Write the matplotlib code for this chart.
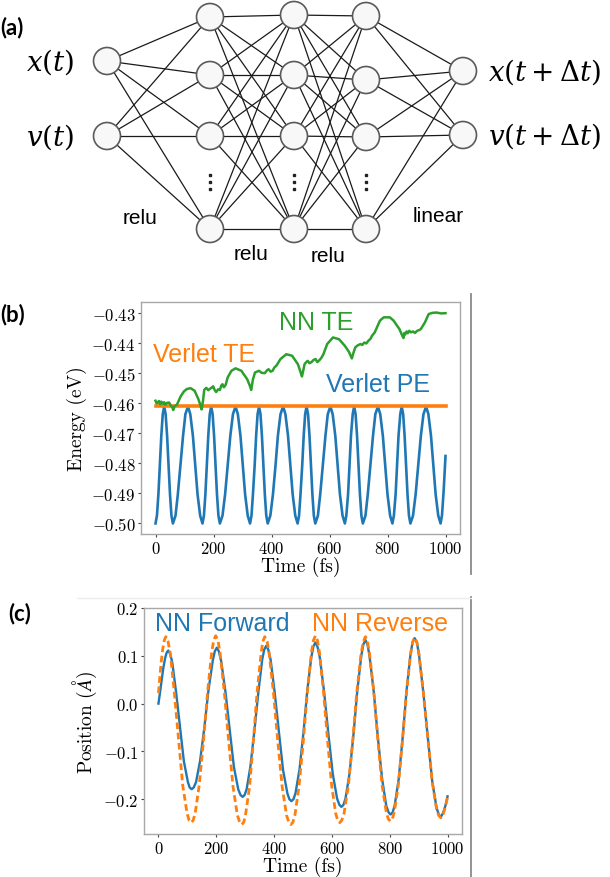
import matplotlib
matplotlib.use("Agg")
import matplotlib.pyplot as plt
from matplotlib.patches import Circle
from matplotlib.lines import Line2D
from matplotlib.ticker import MultipleLocator

plt.rcParams["font.family"] = "serif"
plt.rcParams["font.serif"] = ["cmr10"]
plt.rcParams["mathtext.fontset"] = "cm"
plt.rcParams["axes.formatter.use_mathtext"] = True

# ---- data -------------------------------------------------------------
input_labels = [r"$x(t)$", r"$v(t)$"]
output_labels = [r"$x(t+\Delta t)$", r"$v(t+\Delta t)$"]
activations = ["relu", "relu", "relu", "linear"]

# (b) Verlet potential energy
pe_time = [0, 5, 10, 15, 20, 25, 30, 35, 40, 45, 50, 55, 60,
           69, 77, 86, 95, 103, 112, 120, 129, 137, 145, 154, 162,
           167, 172, 177, 182, 187, 192, 197, 202, 207, 212, 217, 222,
           231, 240, 249, 258, 267, 276, 284, 293, 301, 309, 318, 326,
           331, 336, 342, 347, 352, 357, 362, 367, 372, 377, 382, 387,
           396, 405, 414, 422, 431, 440, 448, 457, 465, 473, 482, 490,
           495, 500, 506, 511, 516, 521, 526, 531, 536, 541, 546, 551,
           560, 568, 577, 586, 594, 603, 611, 620, 628, 636, 645, 653,
           658, 664, 669, 674, 680, 685, 690, 695, 700, 705, 710, 715,
           724, 732, 741, 750, 758, 767, 775, 784, 792, 800, 809, 817,
           822, 828, 833, 838, 844, 849, 854, 859, 864, 869, 874, 879,
           888, 897, 906, 915, 924, 933, 941, 950, 958, 966, 975, 983,
           988, 994, 1000]
pe_energy = [-0.500, -0.4974, -0.4903, -0.4805, -0.4708, -0.4636, -0.461, -0.4636, -0.4708, -0.4805, -0.4903, -0.4974, -0.500,
             -0.4974, -0.4903, -0.4805, -0.4708, -0.4636, -0.461, -0.4636, -0.4708, -0.4805, -0.4903, -0.4974, -0.500,
             -0.4974, -0.4903, -0.4805, -0.4708, -0.4636, -0.461, -0.4636, -0.4708, -0.4805, -0.4903, -0.4974, -0.500,
             -0.4974, -0.4903, -0.4805, -0.4708, -0.4636, -0.461, -0.4636, -0.4708, -0.4805, -0.4903, -0.4974, -0.500,
             -0.4974, -0.4903, -0.4805, -0.4708, -0.4636, -0.461, -0.4636, -0.4708, -0.4805, -0.4903, -0.4974, -0.500,
             -0.4974, -0.4903, -0.4805, -0.4708, -0.4636, -0.461, -0.4636, -0.4708, -0.4805, -0.4903, -0.4974, -0.500,
             -0.4974, -0.4903, -0.4805, -0.4708, -0.4636, -0.461, -0.4636, -0.4708, -0.4805, -0.4903, -0.4974, -0.500,
             -0.4974, -0.4903, -0.4805, -0.4708, -0.4636, -0.461, -0.4636, -0.4708, -0.4805, -0.4903, -0.4974, -0.500,
             -0.4974, -0.4903, -0.4805, -0.4708, -0.4636, -0.461, -0.4636, -0.4708, -0.4805, -0.4903, -0.4974, -0.500,
             -0.4974, -0.4903, -0.4805, -0.4708, -0.4636, -0.461, -0.4636, -0.4708, -0.4805, -0.4903, -0.4974, -0.500,
             -0.4974, -0.4903, -0.4805, -0.4708, -0.4636, -0.461, -0.4636, -0.4708, -0.4805, -0.4903, -0.4974, -0.500,
             -0.4974, -0.4903, -0.4805, -0.4708, -0.4636, -0.461, -0.4636, -0.4708, -0.4805, -0.4903, -0.4974, -0.500,
             -0.4972, -0.4885, -0.4775]

# (b) Verlet total energy
te_verlet_time = [0, 1000]
te_verlet_energy = [-0.461, -0.461]

# (b) NN total energy
te_nn_time = [0, 4, 7, 12, 16, 20, 26, 30, 34, 40, 47, 53, 58, 61, 66, 74, 87, 98,
              108, 121, 135, 148, 155, 159, 164, 168, 175, 182, 188, 194, 199, 204,
              209, 216, 222, 227, 231, 236, 242, 249, 262, 276, 296, 316, 325, 330,
              336, 343, 357, 366, 377, 384, 390, 397, 404, 410, 417, 431, 451, 471,
              491, 500, 505, 510, 514, 520, 525, 531, 538, 545, 552, 558, 565, 572,
              579, 592, 612, 633, 653, 667, 677, 683, 689, 698, 707, 713, 720, 727,
              734, 741, 747, 756, 774, 787, 808, 821, 841, 850, 855, 858, 861, 866,
              870, 875, 881, 888, 895, 902, 908, 915, 929, 942, 955, 969, 985, 1000]
te_nn_energy = [-0.4591, -0.4600, -0.4597, -0.4592, -0.4603, -0.4594, -0.4601, -0.4596,
                -0.4604, -0.4598, -0.4597, -0.4607, -0.4613, -0.4622, -0.4609, -0.4604,
                -0.4576, -0.4560, -0.4552, -0.4549, -0.4558, -0.4586, -0.4606, -0.4620,
                -0.4590, -0.4555, -0.4548, -0.4556, -0.4551, -0.4547, -0.4543, -0.4555,
                -0.4562, -0.4553, -0.4555, -0.4540, -0.4536, -0.4546, -0.4538, -0.4513,
                -0.4491, -0.4483, -0.4491, -0.4519, -0.4540, -0.4555, -0.4520, -0.4497,
                -0.4491, -0.4498, -0.4499, -0.4490, -0.4486, -0.4494, -0.4491, -0.4480,
                -0.4474, -0.4452, -0.4436, -0.4441, -0.4469, -0.4495, -0.4510, -0.4488,
                -0.4469, -0.4462, -0.4458, -0.4466, -0.4462, -0.4455, -0.4452, -0.4462,
                -0.4456, -0.4448, -0.4436, -0.4402, -0.4380, -0.4386, -0.4408, -0.4428,
                -0.4450, -0.4430, -0.4413, -0.4406, -0.4402, -0.4405, -0.4397, -0.4400,
                -0.4391, -0.4385, -0.4374, -0.4363, -0.4324, -0.4313, -0.4313, -0.4324,
                -0.4352, -0.4372, -0.4382, -0.4365, -0.4370, -0.4360, -0.4366, -0.4358,
                -0.4363, -0.4360, -0.4365, -0.4358, -0.4356, -0.4352, -0.4330, -0.4302,
                -0.4298, -0.4297, -0.4300, -0.4299]

# (c) NN forward position
fwd_time = [0, 6, 11, 17, 23, 28, 31, 34,
            41, 48, 61, 75, 88, 102, 108, 115,
            122, 130, 144, 159, 173, 188, 195, 202,
            209, 217, 232, 247, 261, 276, 284, 291,
            298, 305, 318, 332, 346, 359, 366, 373,
            380, 388, 402, 417, 431, 446, 453, 460,
            467, 474, 488, 502, 515, 529, 536, 543,
            550, 558, 573, 588, 603, 618, 626, 633,
            640, 647, 661, 675, 688, 702, 709, 716,
            723, 730, 745, 759, 774, 788, 796, 803,
            810, 817, 831, 845, 858, 872, 879, 886,
            894, 901, 916, 932, 947, 962, 970, 977,
            985, 993, 1000]
fwd_pos = [0.0, 0.026, 0.049, 0.075, 0.095, 0.106, 0.109, 0.111,
           0.1038, 0.0849, 0.024, -0.0514, -0.121, -0.1645, -0.1755, -0.179,
           -0.1754, -0.1642, -0.1198, -0.0488, 0.0282, 0.0904, 0.1096, 0.117,
           0.1092, 0.0889, 0.0234, -0.0577, -0.1326, -0.1794, -0.1913, -0.195,
           -0.1912, -0.1792, -0.1318, -0.056, 0.0262, 0.0926, 0.1131, 0.121,
           0.1129, 0.0917, 0.0235, -0.061, -0.139, -0.1878, -0.2001, -0.204,
           -0.2000, -0.1874, -0.1376, -0.0579, 0.0284, 0.0981, 0.1197, 0.128,
           0.1194, 0.097, 0.0248, -0.0646, -0.1472, -0.1988, -0.2119, -0.216,
           -0.2118, -0.1985, -0.1462, -0.0624, 0.0283, 0.1016, 0.1243, 0.133,
           0.1239, 0.1001, 0.0235, -0.0714, -0.159, -0.2138, -0.2276, -0.232,
           -0.2276, -0.2135, -0.1582, -0.0696, 0.0263, 0.1038, 0.1278, 0.137,
           0.1276, 0.1033, 0.0248, -0.0724, -0.1622, -0.2183, -0.2325, -0.237,
           -0.228, -0.213, -0.194]

# (c) NN reverse position
rev_time = [0, 5, 10, 15, 20, 23, 26,
            33, 41, 55, 70, 84, 99, 106, 113,
            120, 127, 141, 156, 170, 184, 191, 198,
            206, 213, 228, 243, 258, 273, 281, 288,
            295, 301, 315, 328, 341, 355, 361, 368,
            376, 383, 398, 413, 428, 443, 451, 458,
            465, 472, 486, 501, 515, 529, 536, 543,
            550, 557, 571, 585, 599, 613, 620, 627,
            634, 642, 657, 672, 686, 701, 709, 716,
            723, 730, 745, 759, 773, 788, 795, 802,
            809, 816, 830, 844, 858, 872, 879, 886,
            894, 901, 916, 932, 947, 962, 970, 977,
            985, 993, 1000]
rev_pos = [0.022, 0.058, 0.090, 0.115, 0.132, 0.137, 0.140,
           0.1303, 0.105, 0.0233, -0.0778, -0.1712, -0.2296, -0.2443, -0.249,
           -0.2443, -0.2294, -0.1708, -0.077, 0.0247, 0.1068, 0.1322, 0.142,
           0.1321, 0.1064, 0.0235, -0.0792, -0.174, -0.2333, -0.2483, -0.253,
           -0.2483, -0.2333, -0.1744, -0.0801, 0.0221, 0.1046, 0.1302, 0.140,
           0.1302, 0.1046, 0.0221, -0.0801, -0.1744, -0.2334, -0.2483, -0.253,
           -0.2483, -0.2333, -0.174, -0.0792, 0.0235, 0.1065, 0.1321, 0.142,
           0.1322, 0.1068, 0.0247, -0.077, -0.1708, -0.2295, -0.2443, -0.249,
           -0.2443, -0.2295, -0.1712, -0.0778, 0.0233, 0.105, 0.1303, 0.140,
           0.1303, 0.1053, 0.0242, -0.0762, -0.1688, -0.2267, -0.2414, -0.246,
           -0.2414, -0.2268, -0.1692, -0.077, 0.0228, 0.1034, 0.1284, 0.138,
           0.1286, 0.1041, 0.0249, -0.0731, -0.1636, -0.2202, -0.2345, -0.239,
           -0.231, -0.215, -0.196]

# ---- layout -----------------------------------------------------------
W, H = 610, 878
fig = plt.figure(figsize=(W / 100, H / 100), dpi=100)

blue, orange, green = "#1f77b4", "#ff7f0e", "#2ca02c"
sans = "Liberation Sans"

# (a) network diagram, drawn in pixel units
net = fig.add_axes([0, 1 - 272 / H, 1, 272 / H])
net.set_xlim(0, W)
net.set_ylim(272, 0)
net.axis("off")

layer_x = [107, 210, 294, 366, 463]
layer_y = [[62, 137], [18, 76, 137, 230], [16, 76, 137, 230], [17, 81, 138, 230], [72, 136]]

for i in range(len(layer_x) - 1):
    for y0 in layer_y[i]:
        for y1 in layer_y[i + 1]:
            net.plot([layer_x[i], layer_x[i + 1]], [y0, y1], color="#1a1a1a", lw=0.9, zorder=1)

for x, ys in zip(layer_x, layer_y):
    for y in ys:
        net.add_patch(Circle((x, y), 13.5, facecolor="#f8f8f8", edgecolor="#5a5a5a", lw=1.2, zorder=3))

for x in layer_x[1:4]:
    net.plot([x, x, x], [176, 183, 190], "s", ms=1.8, color="#222222", zorder=3)

for label, y in zip(input_labels, layer_y[0]):
    net.text(50, y, label, ha="center", va="center", fontsize=20, math_fontfamily="dejavuserif")
for label, y in zip(output_labels, layer_y[-1]):
    net.text(488, y, label, ha="left", va="center", fontsize=20, math_fontfamily="dejavuserif")

act_pos = [(140, 218), (251, 255), (328, 257), (438, 216)]
for label, (x, y) in zip(activations, act_pos):
    net.text(x, y, label, ha="center", va="center", fontsize=15, family=sans)

fig.text(0, 1 - 28 / H, "(a)", ha="left", va="center", fontsize=16, fontweight="bold", family="Lato")
fig.text(0, 1 - 315 / H, "(b)", ha="left", va="center", fontsize=16, fontweight="bold", family="Lato")
fig.text(8 / W, 1 - 614 / H, "(c)", ha="left", va="center", fontsize=16, fontweight="bold", family="Lato")

# separators
fig.add_artist(Line2D([471 / W, 471 / W], [1 - 295 / H, 1 - 575 / H], color="#8a8a8a", lw=1.3))
fig.add_artist(Line2D([471 / W, 471 / W], [1 - 598 / H, 0], color="#8a8a8a", lw=1.3))
fig.add_artist(Line2D([77 / W, 471 / W], [1 - 599 / H, 1 - 599 / H], color="#ececec", lw=1))


def style_axes(ax):
    for s in ax.spines.values():
        s.set_color("#a8a8a8")
        s.set_linewidth(1.0)
    ax.tick_params(labelsize=12, length=2.5, width=0.8, color="#444444", pad=1.5)


# (b) energies
axb = fig.add_axes([141 / W, 1 - 535 / H, 319 / W, 232 / H])
axb.plot(pe_time, pe_energy, color=blue, lw=1.9, solid_joinstyle="round")
axb.plot(te_verlet_time, te_verlet_energy, color=orange, lw=2.6)
axb.plot(te_nn_time, te_nn_energy, color=green, lw=1.8, solid_joinstyle="round")
axb.yaxis.set_major_locator(MultipleLocator(0.01))
axb.set_xlabel("Time (fs)", fontsize=14, labelpad=0)
axb.set_ylabel("Energy (eV)", fontsize=14, labelpad=3)
axb.text(427, -0.4329, "NN TE", color=green, fontsize=18, family=sans, va="center")
axb.text(-9, -0.4436, "Verlet TE", color=orange, fontsize=18, family=sans, va="center")
axb.text(589, -0.4536, "Verlet PE", color=blue, fontsize=18, family=sans, va="center")
style_axes(axb)

# (c) positions
axc = fig.add_axes([144 / W, 1 - 835 / H, 318 / W, 226 / H])
axc.plot(fwd_time, fwd_pos, color=blue, lw=1.7, solid_joinstyle="round")
axc.plot(rev_time, rev_pos, color=orange, lw=2.0, dashes=(2.4, 1.3))
axc.set_ylim(top=0.2)
axc.set_xlabel("Time (fs)", fontsize=14, labelpad=0)
axc.set_ylabel(r"Position ($\AA$)", fontsize=14, labelpad=3)
axc.text(-12, 0.168, "NN Forward", color=blue, fontsize=18, family=sans, va="center")
axc.text(530, 0.168, "NN Reverse", color=orange, fontsize=18, family=sans, va="center")
style_axes(axc)

fig.savefig("out.png", dpi=100)
